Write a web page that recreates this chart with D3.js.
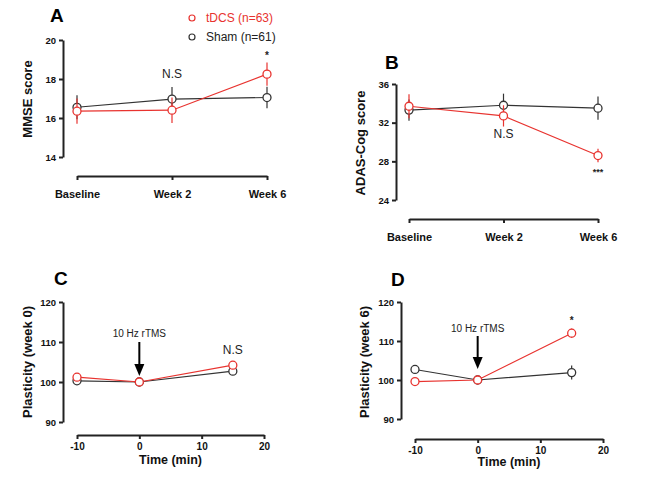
<!DOCTYPE html>
<html>
<head>
<meta charset="utf-8">
<script src="https://cdn.jsdelivr.net/npm/d3@7"></script>
<style>
  html, body { margin: 0; padding: 0; background: #fff; }
  svg { display: block; font-family: "Liberation Sans", Arial, sans-serif; }
</style>
</head>
<body>
<svg id="chart" width="667" height="479"></svg>
<script>
// ---------- data ----------
const weekCategories = ["Baseline", "Week 2", "Week 6"];
const timePoints = [-10, 0, 15];

const mmseTdcs = [16.35, 16.4, 18.25];
const mmseTdcsErr = [0.65, 0.65, 0.6];
const mmseSham = [16.55, 16.97, 17.05];
const mmseShamErr = [0.62, 0.62, 0.55];

const adasTdcs = [33.7, 32.7, 28.6];
const adasTdcsErr = [1.25, 1.1, 0.7];
const adasSham = [33.3, 33.8, 33.5];
const adasShamErr = [1.1, 1.2, 1.2];

const plast0Tdcs = [101.2, 100, 104.2];
const plast0TdcsErr = [0.8, 0.2, 0.8];
const plast0Sham = [100.3, 100, 102.7];
const plast0ShamErr = [0.8, 0.2, 0.8];

const plast6Tdcs = [99.6, 100, 112.0];
const plast6TdcsErr = [0.6, 0.2, 1.2];
const plast6Sham = [102.7, 100, 101.9];
const plast6ShamErr = [0.9, 0.2, 1.8];

const mmseTicks = [14, 16, 18, 20];
const adasTicks = [24, 28, 32, 36];
const plastTicks = [90, 100, 110, 120];
const timeTicks = [-10, 0, 10, 20];

const seriesNames = ["tDCS (n=63)", "Sham (n=61)"];
const RED = "#e8332f", BLACK = "#333333";

const svg = d3.select("#chart");
const intFmt = v => String(v);

function panel(cfg) {
  const g = svg.append("g");
  const y = d3.scaleLinear().domain(cfg.yDomain).range([cfg.yBottom, cfg.yTop]);
  let x;
  if (cfg.categorical) {
    x = d3.scalePoint().domain(cfg.categories).range([cfg.xLeft, cfg.xRight]);
  } else {
    x = d3.scaleLinear().domain(cfg.xDomain).range([cfg.xLeft, cfg.xRight]);
  }
  const xs = cfg.categorical ? cfg.categories : cfg.xValues;

  const ya = g.append("g").attr("transform", `translate(${cfg.yAxisX},0)`)
    .call(d3.axisLeft(y).tickValues(cfg.yTicks).tickFormat(intFmt)
      .tickSize(4).tickSizeOuter(0).tickPadding(3));
  const xa = g.append("g").attr("transform", `translate(0,${cfg.xAxisY})`)
    .call((cfg.categorical ? d3.axisBottom(x) : d3.axisBottom(x).tickValues(cfg.xTicks).tickFormat(intFmt))
      .tickSize(4).tickSizeOuter(0).tickPadding(cfg.categorical ? 10 : 4));
  [ya, xa].forEach(a => {
    a.select(".domain").attr("stroke", "#222").attr("stroke-width", 2);
    a.selectAll(".tick line").attr("stroke", "#222").attr("stroke-width", 2);
    a.selectAll(".tick text").attr("fill", "#111").attr("font-weight", "bold")
      .attr("font-family", "Liberation Sans, Arial, sans-serif");
  });
  ya.selectAll(".tick text").attr("font-size", 9.5);
  xa.selectAll(".tick text").attr("font-size", cfg.categorical ? 11 : 10);

  g.append("text")
    .attr("transform", `translate(${cfg.yTitleX},${cfg.yTitleY}) rotate(-90)`)
    .attr("text-anchor", "middle").attr("font-size", 13).attr("font-weight", "bold")
    .attr("fill", "#111").text(cfg.yTitle);
  if (cfg.xTitle) {
    g.append("text").attr("x", (cfg.xLeft + cfg.xRight) / 2).attr("y", cfg.xTitleY)
      .attr("text-anchor", "middle").attr("font-size", 12.5).attr("font-weight", "bold")
      .attr("fill", "#111").text(cfg.xTitle);
  }
  g.append("text").attr("x", cfg.letterX).attr("y", cfg.letterY)
    .attr("font-size", 19).attr("font-weight", "bold").attr("fill", "#000").text(cfg.letter);

  const series = [
    { vals: cfg.sham, err: cfg.shamErr, color: BLACK },
    { vals: cfg.tdcs, err: cfg.tdcsErr, color: RED }
  ];
  series.forEach(s => {
    const pts = xs.map((k, i) => ({ x: x(k), v: s.vals[i], e: s.err[i] }));
    g.append("g").selectAll("line").data(pts).join("line")
      .attr("x1", d => d.x).attr("x2", d => d.x)
      .attr("y1", d => y(d.v - d.e)).attr("y2", d => y(d.v + d.e))
      .attr("stroke", s.color).attr("stroke-width", 1.2);
    g.append("path").datum(pts)
      .attr("d", d3.line().x(d => d.x).y(d => y(d.v)))
      .attr("fill", "none").attr("stroke", s.color).attr("stroke-width", 1.2);
    g.append("g").selectAll("circle").data(pts).join("circle")
      .attr("cx", d => d.x).attr("cy", d => y(d.v)).attr("r", 4)
      .attr("fill", "#fff").attr("stroke", s.color).attr("stroke-width", 1.3);
  });

  (cfg.notes || []).forEach(n => {
    g.append("text").attr("x", x(n.at)).attr("y", y(n.value) + (n.dy || 0))
      .attr("text-anchor", "middle").attr("font-size", n.size || 12)
      .attr("font-weight", n.bold ? "bold" : "normal").attr("fill", "#222").text(n.text);
  });

  if (cfg.arrow) {
    const ax = x(cfg.arrow.at);
    g.append("text").attr("x", ax).attr("y", cfg.arrow.textY)
      .attr("text-anchor", "middle").attr("font-size", 10).attr("fill", "#222").text("10 Hz rTMS");
    g.append("line").attr("x1", ax).attr("x2", ax)
      .attr("y1", cfg.arrow.y1).attr("y2", cfg.arrow.y2 - 10)
      .attr("stroke", "#000").attr("stroke-width", 2);
    g.append("path")
      .attr("d", `M${ax - 5},${cfg.arrow.y2 - 12} L${ax + 5},${cfg.arrow.y2 - 12} L${ax},${cfg.arrow.y2} Z`)
      .attr("fill", "#000");
  }
  return { x, y, g };
}

panel({
  letter: "A", letterX: 50, letterY: 22,
  categorical: true, categories: weekCategories,
  xLeft: 77, xRight: 267, xAxisY: 176, yAxisX: 63,
  yDomain: [14, 20], yTop: 40, yBottom: 157, yTicks: mmseTicks,
  yTitle: "MMSE score", yTitleX: 32, yTitleY: 99,
  tdcs: mmseTdcs, tdcsErr: mmseTdcsErr, sham: mmseSham, shamErr: mmseShamErr,
  notes: [
    { at: "Week 2", value: 18, dy: -1, text: "N.S", size: 12 },
    { at: "Week 6", value: 18.85, dy: -3, text: "*", size: 10, bold: true }
  ]
});

const legend = svg.append("g");
[[seriesNames[0], RED, 18], [seriesNames[1], BLACK, 37]].forEach(([t, c, ly]) => {
  legend.append("circle").attr("cx", 192).attr("cy", ly).attr("r", 3)
    .attr("fill", "#fff").attr("stroke", c).attr("stroke-width", 1.2);
  legend.append("text").attr("x", 206).attr("y", ly + 4).attr("font-size", 12)
    .attr("fill", c === RED ? RED : "#222").text(t);
});

panel({
  letter: "B", letterX: 385, letterY: 69,
  categorical: true, categories: weekCategories,
  xLeft: 409, xRight: 598, xAxisY: 219, yAxisX: 396,
  yDomain: [24, 36], yTop: 84, yBottom: 200, yTicks: adasTicks,
  yTitle: "ADAS-Cog score", yTitleX: 365, yTitleY: 143,
  tdcs: adasTdcs, tdcsErr: adasTdcsErr, sham: adasSham, shamErr: adasShamErr,
  notes: [
    { at: "Week 2", value: 30.4, dy: 0, text: "N.S", size: 12 },
    { at: "Week 6", value: 26.6, dy: 0, text: "***", size: 9, bold: true }
  ]
});

panel({
  letter: "C", letterX: 54, letterY: 285,
  categorical: false, xDomain: [-10, 20], xValues: timePoints, xTicks: timeTicks,
  xLeft: 77, xRight: 264, xAxisY: 435, yAxisX: 63,
  yDomain: [90, 120], yTop: 302, yBottom: 422, yTicks: plastTicks,
  yTitle: "Plasticity (week 0)", yTitleX: 32, yTitleY: 362,
  xTitle: "Time (min)", xTitleY: 464,
  tdcs: plast0Tdcs, tdcsErr: plast0TdcsErr, sham: plast0Sham, shamErr: plast0ShamErr,
  notes: [ { at: 15, value: 107, dy: 0, text: "N.S", size: 12 } ],
  arrow: { at: 0, textY: 337, y1: 342, y2: 376 }
});

panel({
  letter: "D", letterX: 391, letterY: 286,
  categorical: false, xDomain: [-10, 20], xValues: timePoints, xTicks: timeTicks,
  xLeft: 415, xRight: 603, xAxisY: 439, yAxisX: 401,
  yDomain: [90, 120], yTop: 302, yBottom: 419, yTicks: plastTicks,
  yTitle: "Plasticity (week 6)", yTitleX: 369, yTitleY: 362,
  xTitle: "Time (min)", xTitleY: 466,
  tdcs: plast6Tdcs, tdcsErr: plast6TdcsErr, sham: plast6Sham, shamErr: plast6ShamErr,
  notes: [ { at: 15, value: 115.5, dy: 4, text: "*", size: 10, bold: true } ],
  arrow: { at: 0, textY: 332, y1: 336, y2: 369 }
});
</script>
</body>
</html>
